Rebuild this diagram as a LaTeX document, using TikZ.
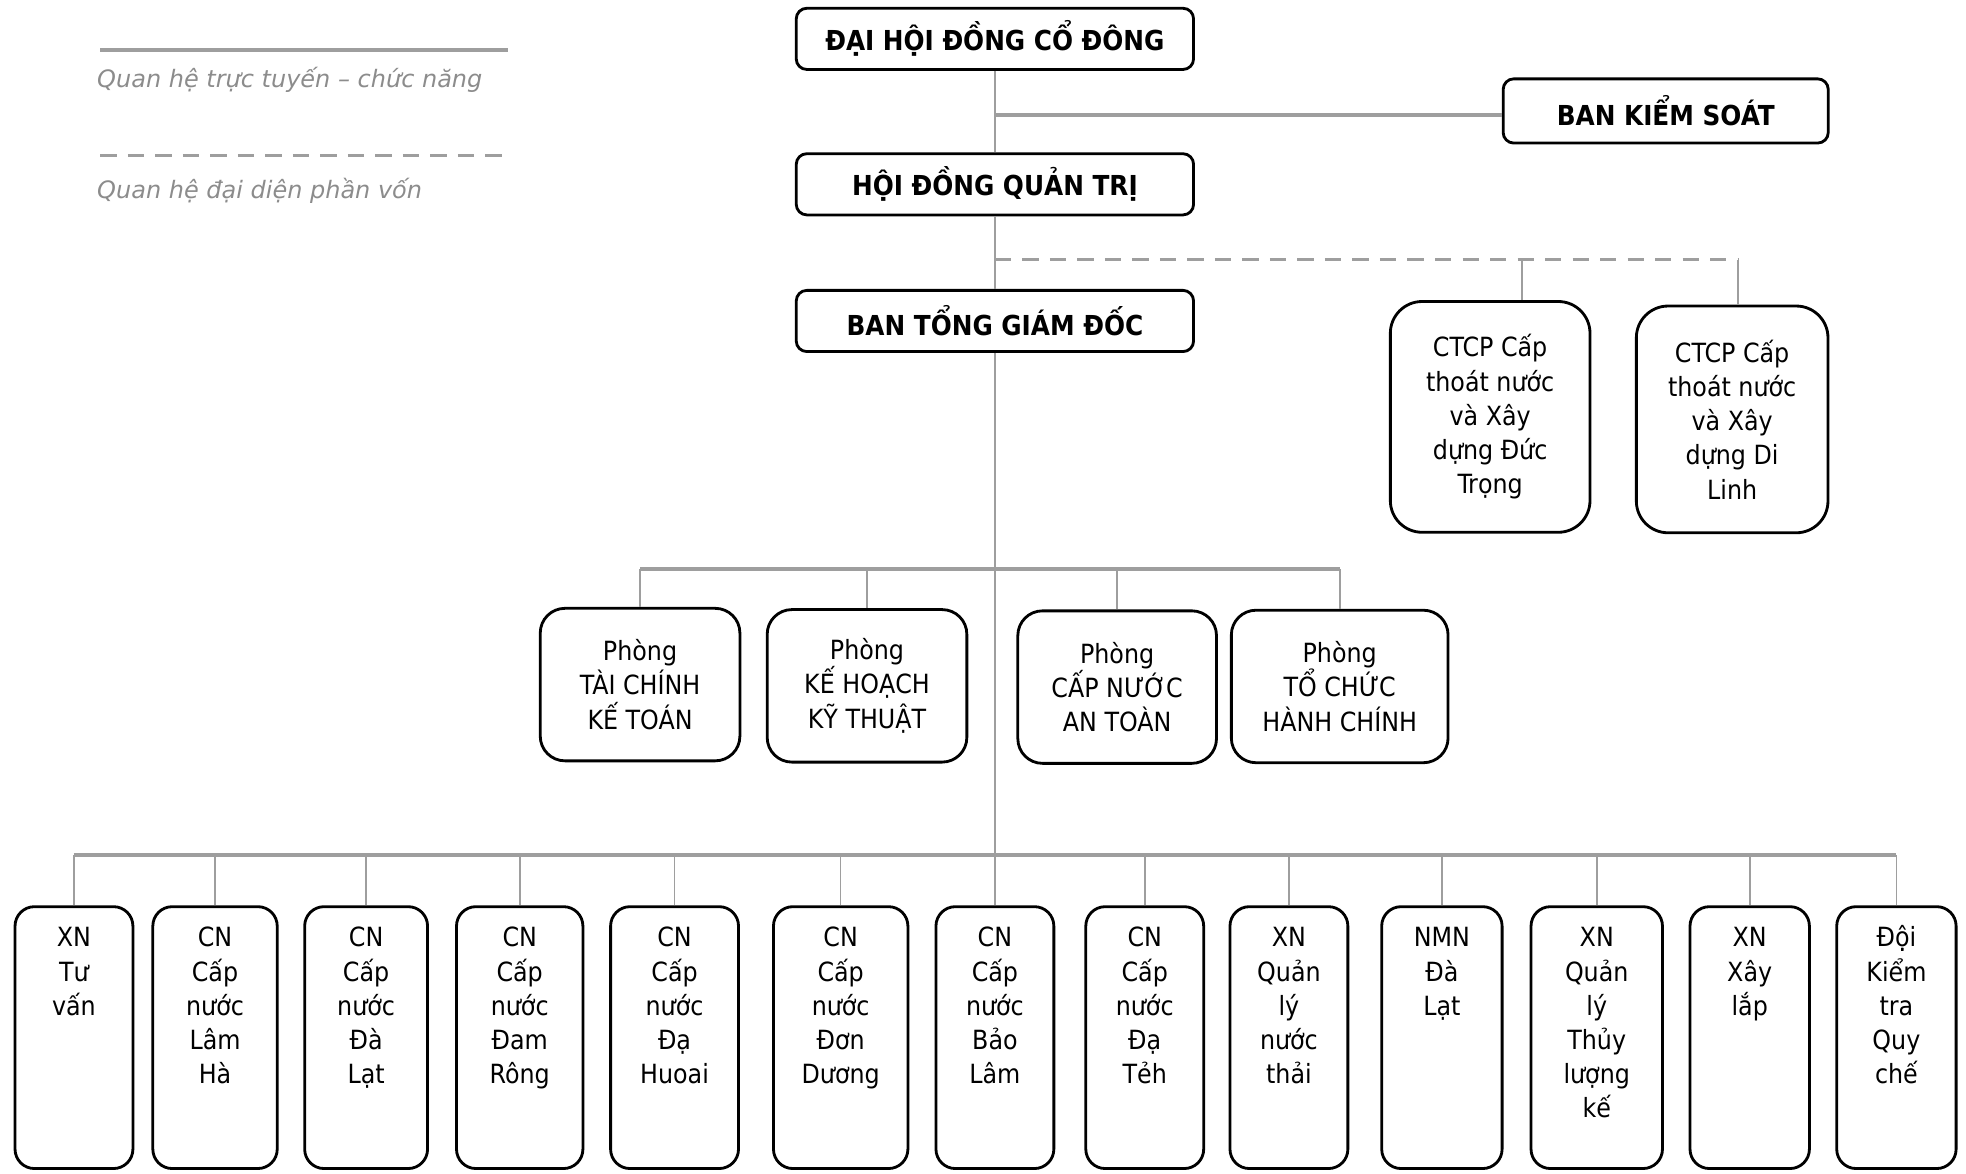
\documentclass[tikz,border=0pt]{standalone}
\usepackage{fontspec}
\setmainfont{DejaVu Sans Condensed}
\newfontfamily\legendfont{DejaVu Sans}
\definecolor{linegray}{HTML}{9E9E9E}
\definecolor{legendgray}{HTML}{8C8C8C}
\newcommand{\unitlines}[1]{\begin{tabular}[t]{@{}c@{}}#1\end{tabular}}

\begin{document}
\begin{tikzpicture}[x=0.0125cm,y=-0.0125cm,
    boxtext/.style={draw=black,line width=0.8pt,align=center,font=\fontsize{7.5}{9.7}\selectfont},
    head/.style={boxtext,rounded corners=3pt,minimum width=3.96cm,minimum height=0.61cm,font=\bfseries\fontsize{7.8}{9}\selectfont},
    ctcp/.style={boxtext,rounded corners=9pt,minimum height=2.3cm},
    phong/.style={boxtext,rounded corners=7pt,minimum height=1.52cm},
    unit/.style={boxtext,rounded corners=5.5pt,anchor=north,inner sep=0pt,text height=0.4cm,text depth=2.21cm},
    trunk/.style={draw=linegray,line width=0.6pt},
    bus/.style={draw=linegray,line width=1.1pt},
    drop/.style={draw=linegray,line width=0.45pt},
    share/.style={draw=linegray,line width=1pt,dash pattern=on 4.6pt off 3.2pt},
    legend/.style={font=\legendfont\itshape\fontsize{6.8}{8}\selectfont,text=legendgray,anchor=west,inner sep=0pt}]
    \useasboundingbox (0,0) rectangle (1568,936);

    \draw[bus] (80,40) -- (405,40);
    \node[legend] (lg1) at (77,64) {Quan hệ trực tuyến – chức năng};
    \draw[share] (80,124) -- (405,124);
    \node[legend] (lg2) at (77,152) {Quan hệ đại diện phần vốn};

    \node[head] (dh) at (793.5,31) {ĐẠI HỘI ĐỒNG CỔ ĐÔNG};
    \node[head,minimum width=3.24cm,minimum height=0.64cm] (bks) at (1328.5,88.5) {BAN KIỂM SOÁT};
    \node[head] (hd) at (793.5,147) {HỘI ĐỒNG QUẢN TRỊ};
    \node[head] (bt) at (793.5,256) {BAN TỔNG GIÁM ĐỐC};

    \node[ctcp,minimum width=1.99cm] (ct1) at (1188.5,332.5) {CTCP Cấp\\thoát nước\\và Xây\\dựng Đức\\Trọng};
    \node[ctcp,minimum width=1.91cm,minimum height=2.26cm] (ct2) at (1381.5,334.5) {CTCP Cấp\\thoát nước\\và Xây\\dựng Di\\Linh};

    \node[phong,minimum width=1.99cm] (p1) at (510.5,546) {Phòng\\TÀI CHÍNH\\KẾ TOÁN};
    \node[phong,minimum width=1.99cm] (p2) at (691.5,547) {Phòng\\KẾ HOẠCH\\KỸ THUẬT};
    \node[phong,minimum width=1.98cm] (p3) at (891,548) {Phòng\\CẤP NƯỚC\\AN TOÀN};
    \node[phong,minimum width=2.16cm] (p4) at (1068.5,547.5) {Phòng\\TỔ CHỨC\\HÀNH CHÍNH};

    \node[unit,minimum width=1.175cm] (b1) at (59,722) {\unitlines{XN\\Tư\\vấn}};
    \node[unit,minimum width=1.24cm] (b2) at (171.5,722) {\unitlines{CN\\Cấp\\nước\\Lâm\\Hà}};
    \node[unit,minimum width=1.225cm] (b3) at (292,722) {\unitlines{CN\\Cấp\\nước\\Đà\\Lạt}};
    \node[unit,minimum width=1.26cm] (b4) at (414.5,722) {\unitlines{CN\\Cấp\\nước\\Đam\\Rông}};
    \node[unit,minimum width=1.275cm] (b5) at (538,722) {\unitlines{CN\\Cấp\\nước\\Đạ\\Huoai}};
    \node[unit,minimum width=1.34cm] (b6) at (670.5,722) {\unitlines{CN\\Cấp\\nước\\Đơn\\Dương}};
    \node[unit,minimum width=1.175cm] (b7) at (793.5,722) {\unitlines{CN\\Cấp\\nước\\Bảo\\Lâm}};
    \node[unit,minimum width=1.175cm] (b8) at (913,722) {\unitlines{CN\\Cấp\\nước\\Đạ\\Tẻh}};
    \node[unit,minimum width=1.175cm] (b9) at (1028,722) {\unitlines{XN\\Quản\\lý\\nước\\thải}};
    \node[unit,minimum width=1.2cm] (b10) at (1150,722) {\unitlines{NMN\\Đà\\Lạt}};
    \node[unit,minimum width=1.31cm] (b11) at (1273.5,722) {\unitlines{XN\\Quản\\lý\\Thủy\\lượng\\kế}};
    \node[unit,minimum width=1.19cm] (b12) at (1395.5,722) {\unitlines{XN\\Xây\\lắp}};
    \node[unit,minimum width=1.19cm] (b13) at (1512.5,722) {\unitlines{Đội\\Kiểm\\tra\\Quy\\chế}};

    \draw[trunk] (dh) -- (hd);
    \coordinate (jb) at (dh.south |- 0,92);
    \draw[bus] (jb) -- (jb -| bks.west);
    \draw[trunk] (hd) -- (bt);
    \coordinate (js) at (793.5,207);
    \coordinate (d1) at (1214,207);
    \coordinate (d2) at (1386,207);
    \draw[share] (js) -- (d2);
    \draw[trunk] (d1) -- (d1 |- ct1.north);
    \draw[trunk] (d2) -- (d2 |- ct2.north);

    \draw[trunk] (bt) -- (b7);
    \coordinate (pbus) at (793.5,454);
    \draw[bus] (p1.north |- pbus) -- (p4.north |- pbus);
    \draw[drop] (p1.north) -- (p1.north |- pbus);
    \draw[drop] (p2.north) -- (p2.north |- pbus);
    \draw[drop] (p3.north) -- (p3.north |- pbus);
    \draw[drop] (p4.north) -- (p4.north |- pbus);

    \coordinate (ubus) at (793.5,682);
    \draw[bus] (b1.north |- ubus) -- (b13.north |- ubus);
    \draw[drop] (b1.north) -- (b1.north |- ubus);
    \draw[drop] (b2.north) -- (b2.north |- ubus);
    \draw[drop] (b3.north) -- (b3.north |- ubus);
    \draw[drop] (b4.north) -- (b4.north |- ubus);
    \draw[drop] (b5.north) -- (b5.north |- ubus);
    \draw[drop] (b6.north) -- (b6.north |- ubus);
    \draw[drop] (b8.north) -- (b8.north |- ubus);
    \draw[drop] (b9.north) -- (b9.north |- ubus);
    \draw[drop] (b10.north) -- (b10.north |- ubus);
    \draw[drop] (b11.north) -- (b11.north |- ubus);
    \draw[drop] (b12.north) -- (b12.north |- ubus);
    \draw[drop] (b13.north) -- (b13.north |- ubus);
\end{tikzpicture}
\end{document}
